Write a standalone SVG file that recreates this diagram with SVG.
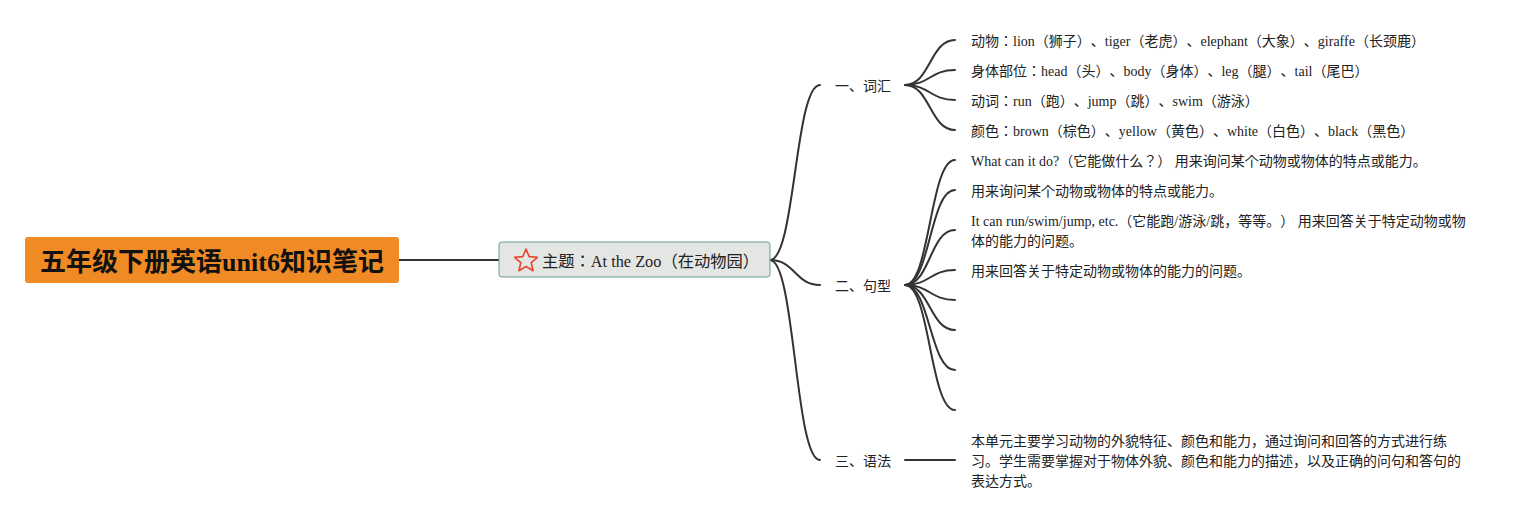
<svg xmlns="http://www.w3.org/2000/svg" width="1531" height="520" viewBox="0 0 1531 520">
<style>
text{text-spacing-trim:space-all}
.c{fill:none;stroke:#333;stroke-width:2;stroke-linecap:round}
.t{font-family:"Liberation Serif","Noto Sans CJK JP",sans-serif;font-size:14px;fill:#222}
.b{font-family:"Noto Sans CJK JP",sans-serif;font-size:14px;fill:#222}
</style>
<rect width="1531" height="520" fill="#fff"/>
<g id="connectors">
<path class="c" d="M399,260 H499"/>
<path class="c" d="M770,260 C795,260 795,85 820,85"/>
<path class="c" d="M770,260 C795,260 795,285 820,285"/>
<path class="c" d="M770,260 C795,260 795,460 820,460"/>
<path class="c" d="M905,85 C930,85 930,40 955,40"/>
<path class="c" d="M905,85 C930,85 930,70 955,70"/>
<path class="c" d="M905,85 C930,85 930,100 955,100"/>
<path class="c" d="M905,85 C930,85 930,130 955,130"/>
<path class="c" d="M905,285 C930,285 930,160 955,160"/>
<path class="c" d="M905,285 C930,285 930,190 955,190"/>
<path class="c" d="M905,285 C930,285 930,230 955,230"/>
<path class="c" d="M905,285 C930,285 930,270 955,270"/>
<path class="c" d="M905,285 C930,285 930,300 955,300"/>
<path class="c" d="M905,285 C930,285 930,330 955,330"/>
<path class="c" d="M905,285 C930,285 930,370 955,370"/>
<path class="c" d="M905,285 C930,285 930,410 955,410"/>
<path class="c" d="M905,460 H955"/>
</g>
<g id="root">
<rect x="25" y="237" width="374" height="46" rx="3" fill="#F08A24"/>
<text x="212" y="271" text-anchor="middle" font-family="Liberation Serif,'Noto Sans CJK SC',sans-serif" font-size="26" font-weight="bold" fill="#111">五年级下册英语unit6知识笔记</text>
</g>
<g id="topic">
<rect x="499" y="242" width="271" height="35" rx="3" fill="#E4E6E4" stroke="#6A9C8C" stroke-width="1"/>
<polygon points="526,249 529.2,256.6 537.4,257.3 531.2,262.7 533.1,270.7 526,266.5 518.9,270.7 520.8,262.7 514.6,257.3 522.8,256.6" fill="none" stroke="#E8452F" stroke-width="1.6" stroke-linejoin="round"/>
<text x="542" y="267" font-family="Liberation Serif,'Noto Sans CJK JP',sans-serif" font-size="16.3" fill="#222">主题：At the Zoo（在动物园）</text>
</g>
<g id="b1"><text class="b" x="835" y="91">一、词汇</text></g>
<g id="b2"><text class="b" x="835" y="291">二、句型</text></g>
<g id="b3"><text class="b" x="835" y="466">三、语法</text></g>
<g id="n1"><text class="t" x="971" y="46">动物：lion（狮子）、tiger（老虎）、elephant（大象）、giraffe（长颈鹿）</text></g>
<g id="n2"><text class="t" x="971" y="76">身体部位：head（头）、body（身体）、leg（腿）、tail（尾巴）</text></g>
<g id="n3"><text class="t" x="971" y="106">动词：run（跑）、jump（跳）、swim（游泳）</text></g>
<g id="n4"><text class="t" x="971" y="136">颜色：brown（棕色）、yellow（黄色）、white（白色）、black（黑色）</text></g>
<g id="n5"><text class="t" x="971" y="166">What can it do?（它能做什么？） 用来询问某个动物或物体的特点或能力。</text></g>
<g id="n6"><text class="t" x="971" y="196">用来询问某个动物或物体的特点或能力。</text></g>
<g id="n7"><text class="t" x="971" y="226">It can run/swim/jump, etc.（它能跑/游泳/跳，等等。） 用来回答关于特定动物或物</text><text class="t" x="971" y="246">体的能力的问题。</text></g>
<g id="n8"><text class="t" x="971" y="276">用来回答关于特定动物或物体的能力的问题。</text></g>
<g id="n9"><text class="t" x="971" y="446">本单元主要学习动物的外貌特征、颜色和能力，通过询问和回答的方式进行练</text><text class="t" x="971" y="466">习。学生需要掌握对于物体外貌、颜色和能力的描述，以及正确的问句和答句的</text><text class="t" x="971" y="486">表达方式。</text></g>
</svg>
